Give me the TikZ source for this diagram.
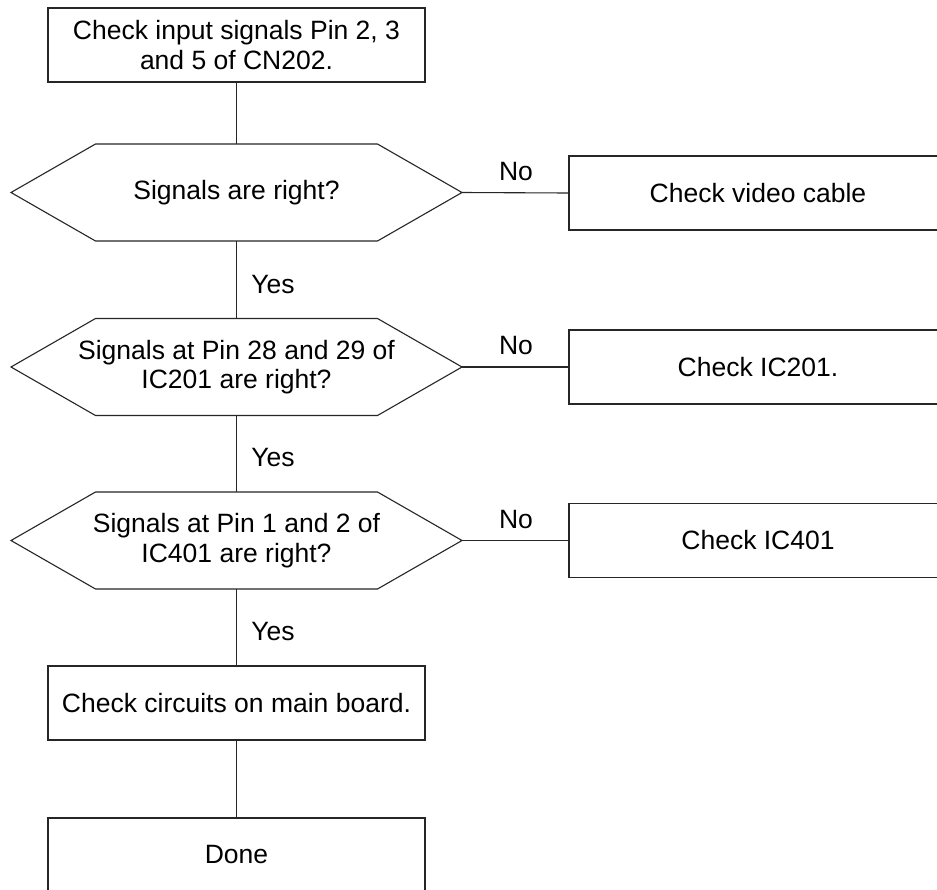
\documentclass[tikz,border=0pt]{standalone}
\usepackage{fontspec}
\setmainfont{Liberation Sans}
\begin{document}
\begin{tikzpicture}[x=1pt,y=1pt,
  line/.style={draw=black!85, line width=1.1pt},
  txt/.style={font=\fontsize{26.5}{29.5}\selectfont, align=center, inner sep=0pt},
  boxnode/.style={txt, line, rectangle, minimum width=377pt, minimum height=74pt},
  hexcore/.style={txt, rectangle, minimum width=282pt, minimum height=97pt},
  lbl/.style={font=\fontsize{26.5}{29.5}\selectfont, inner sep=0pt}]
\useasboundingbox (0,0) rectangle (937,-889);
\clip (0,0) rectangle (937,-889);
\fill[white] (0,0) rectangle (937,-889);

% main column
\node[boxnode] (top) at (236.5,-45) {Check input signals Pin 2, 3\\and 5 of CN202.};
\node[hexcore] (h1) at (236.5,-192.5) {Signals are right?};
\node[hexcore] (h2) at (236.5,-367) {Signals at Pin 28 and 29 of\\IC201 are right?};
\node[hexcore] (h3) at (236.5,-540.5) {Signals at Pin 1 and 2 of\\IC401 are right?};
\node[boxnode] (main) at (236.5,-703) {Check circuits on main board.};
\node[boxnode] (done) at (236.5,-855) {Done};

% hexagon outlines (fixed geometry around each centre)
\foreach \h in {h1,h2,h3}{
  \draw[line] ([shift={(-141,48.5)}]\h.center) coordinate (\h t)
    -- ([shift={(141,48.5)}]\h.center)
    -- ([shift={(225.5,0)}]\h.center)
    -- ([shift={(141,-48.5)}]\h.center)
    -- ([shift={(-141,-48.5)}]\h.center)
    -- ([shift={(-225.5,0)}]\h.center) -- cycle;
}
\coordinate (h1n) at ([yshift=48.5pt]h1.center);
\coordinate (h1s) at ([yshift=-48.5pt]h1.center);
\coordinate (h2n) at ([yshift=48.5pt]h2.center);
\coordinate (h2s) at ([yshift=-48.5pt]h2.center);
\coordinate (h3n) at ([yshift=48.5pt]h3.center);
\coordinate (h3s) at ([yshift=-48.5pt]h3.center);
\coordinate (h1r) at ([xshift=225.5pt]h1.center);
\coordinate (h2r) at ([xshift=225.5pt]h2.center);
\coordinate (h3r) at ([xshift=225.5pt]h3.center);

% right column
\node[boxnode, minimum width=378pt] (b1) at (758,-193) {Check video cable};
\node[boxnode, minimum width=378pt] (b2) at (758,-367) {Check IC201.};
\node[boxnode, minimum width=378pt] (b3) at (758,-540.5) {Check IC401};

% connectors
\draw[line] (top.south) -- (h1n);
\draw[line] (h1s) -- (h2n);
\draw[line] (h2s) -- (h3n);
\draw[line] (h3s) -- (main.north);
\draw[line] (main.south) -- (done.north);
\draw[line] (h1r) -- (b1.west);
\draw[line] (h2r) -- (b2.west);
\draw[line] (h3r) -- (b3.west);

% labels
\node[lbl] (y1) at (273,-285) {Yes};
\node[lbl] (y2) at (273,-458) {Yes};
\node[lbl] (y3) at (273,-632) {Yes};
\node[lbl] (n1) at (516,-172) {No};
\node[lbl] (n2) at (516,-346) {No};
\node[lbl] (n3) at (516,-520) {No};
\end{tikzpicture}
\end{document}
